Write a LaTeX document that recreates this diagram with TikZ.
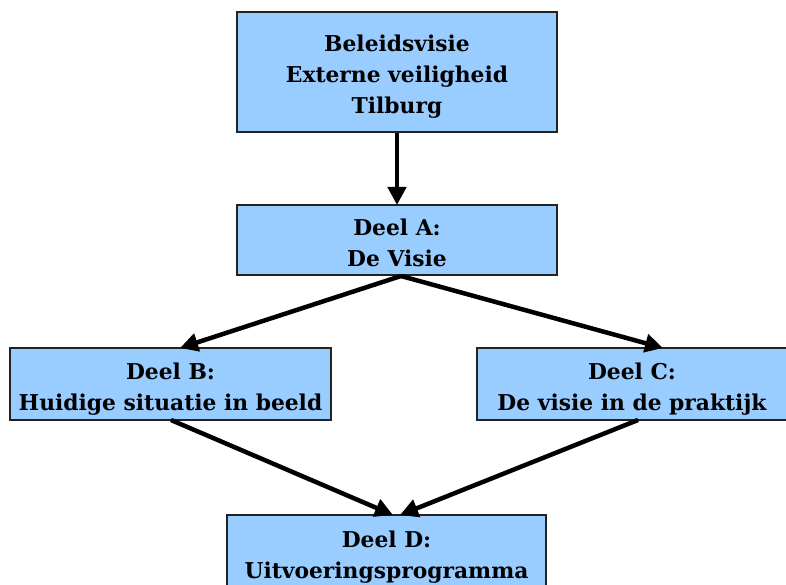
\documentclass[tikz,border=0pt]{standalone}
\usepackage{fontspec}
\setmainfont{DejaVu Serif}
\usetikzlibrary{arrows.meta}
\definecolor{boxfill}{HTML}{99CCFF}
\definecolor{boxline}{HTML}{222222}
\tikzset{
  partbox/.style={draw=boxline, line width=1.5pt, fill=boxfill, rectangle, inner sep=0pt,
    align=center, font=\fontsize{21.8}{31}\selectfont\bfseries},
  twoline/.style={text height=58pt, text depth=6pt},
  threeline/.style={text height=90pt, text depth=6pt},
  flow/.style={line width=4.5pt, -{Triangle[length=18pt,width=18pt]}, black}
}
\begin{document}
\begin{tikzpicture}[x=1pt,y=-1pt]
\useasboundingbox (0,0) rectangle (786,585);
\node[partbox, threeline, minimum width=320pt, minimum height=120pt] (top) at (397,72) {Beleidsvisie\\Externe veiligheid\\Tilburg};
\node[partbox, twoline, minimum width=320pt, minimum height=70pt] (a) at (397,240) {Deel A:\\De Visie};
\node[partbox, twoline, minimum width=321pt, minimum height=72pt] (b) at (170.5,384) {Deel B:\\Huidige situatie in beeld};
\node[partbox, twoline, minimum width=310pt, minimum height=72pt] (c) at (632,384) {Deel C:\\De visie in de praktijk};
\node[partbox, twoline, minimum width=319pt, minimum height=74pt] (d) at (386.5,552) {Deel D:\\Uitvoeringsprogramma};
\coordinate (aT) at (397,205);
\coordinate (aB) at (401,276);
\coordinate (bT) at (180,348);
\coordinate (cT) at (663,348);
\coordinate (bB) at (171,420);
\coordinate (cB) at (638,420);
\coordinate (dT1) at (393,515);
\coordinate (dT2) at (400,515);
\draw[flow] (top.south) -- (aT);
\draw[flow] (aB) -- (bT);
\draw[flow] (aB) -- (cT);
\draw[flow] (bB) -- (dT1);
\draw[flow] (cB) -- (dT2);
\end{tikzpicture}
\end{document}
